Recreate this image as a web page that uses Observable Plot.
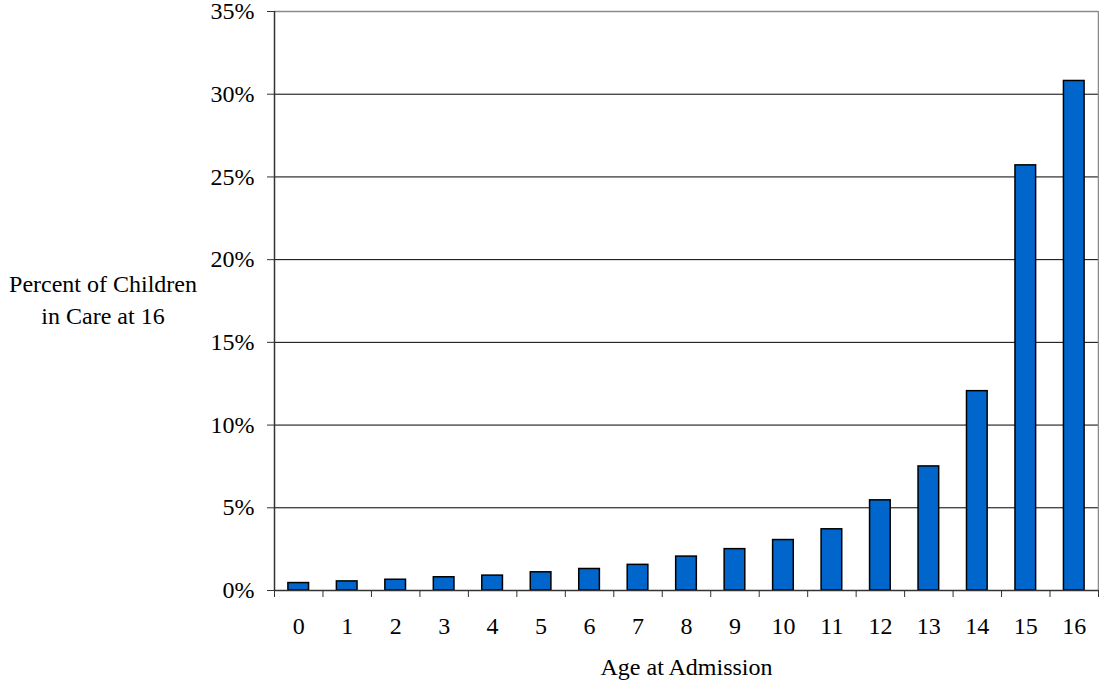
<!DOCTYPE html>
<html>
<head>
<meta charset="utf-8">
<script src="https://cdn.jsdelivr.net/npm/d3@7"></script>
<script src="https://cdn.jsdelivr.net/npm/@observablehq/plot@0.6"></script>
<style>
  html, body { margin: 0; padding: 0; background: #fff; }
</style>
</head>
<body>
<div id="chart"></div>
<script>
// Data
const ages = [0, 1, 2, 3, 4, 5, 6, 7, 8, 9, 10, 11, 12, 13, 14, 15, 16];
const percentInCare = [0.45, 0.55, 0.65, 0.8, 0.9, 1.1, 1.3, 1.55, 2.05, 2.5, 3.05, 3.7, 5.45, 7.5, 12.05, 25.7, 30.8];
const yTicks = [0, 0.05, 0.10, 0.15, 0.20, 0.25, 0.30, 0.35];
const xTitle = "Age at Admission";
const yTitle = "Percent of Children\nin Care at 16";

const data = ages.map((a, i) => ({age: a, pct: percentInCare[i] / 100}));
const boundaries = ages.map(a => a - 0.5).concat([ages[ages.length - 1] + 0.5]);
const half = 0.213;

const chart = Plot.plot({
  width: 1099,
  height: 681,
  marginLeft: 274,
  marginRight: 1,
  marginTop: 11,
  marginBottom: 91,
  style: {fontFamily: "'Liberation Serif', 'Times New Roman', serif", fontSize: "24px", background: "#fff", color: "#000", overflow: "visible"},
  x: {domain: [boundaries[0], boundaries[boundaries.length - 1]]},
  y: {domain: [0, 0.35]},
  marks: [
    Plot.ruleY(yTicks.slice(1, -1), {stroke: "#000", strokeWidth: 1}),
    Plot.ruleY([yTicks[yTicks.length - 1]], {stroke: "#8a8a8a", strokeWidth: 1.5}),
    Plot.ruleX([boundaries[boundaries.length - 1]], {stroke: "#8a8a8a", strokeWidth: 1.5}),
    Plot.rect(data, {
      x1: d => d.age - half,
      x2: d => d.age + half,
      y1: 0,
      y2: "pct",
      fill: "#0066cc",
      stroke: "#000",
      strokeWidth: 1.5
    }),
    Plot.ruleX([boundaries[0]], {stroke: "#333", strokeWidth: 1.5}),
    Plot.ruleY([0], {stroke: "#333", strokeWidth: 1.5}),
    Plot.axisY(yTicks, {tickSize: 7, tickPadding: 13, tickFormat: d3.format(".0%"), label: null, stroke: "#333"}),
    Plot.axisX(boundaries, {tickSize: 7, tickFormat: () => "", label: null, stroke: "#333"}),
    Plot.axisX(ages, {tickSize: 0, tickPadding: 26, tickFormat: d => String(d), label: xTitle, labelAnchor: "center", labelOffset: 84, labelArrow: "none"}),
    Plot.text([yTitle], {frameAnchor: "left", dx: -171.5, dy: -3, textAnchor: "middle", lineAnchor: "middle", lineHeight: 1.3, fontSize: 24})
  ]
});
document.getElementById("chart").appendChild(chart);
</script>
</body>
</html>
